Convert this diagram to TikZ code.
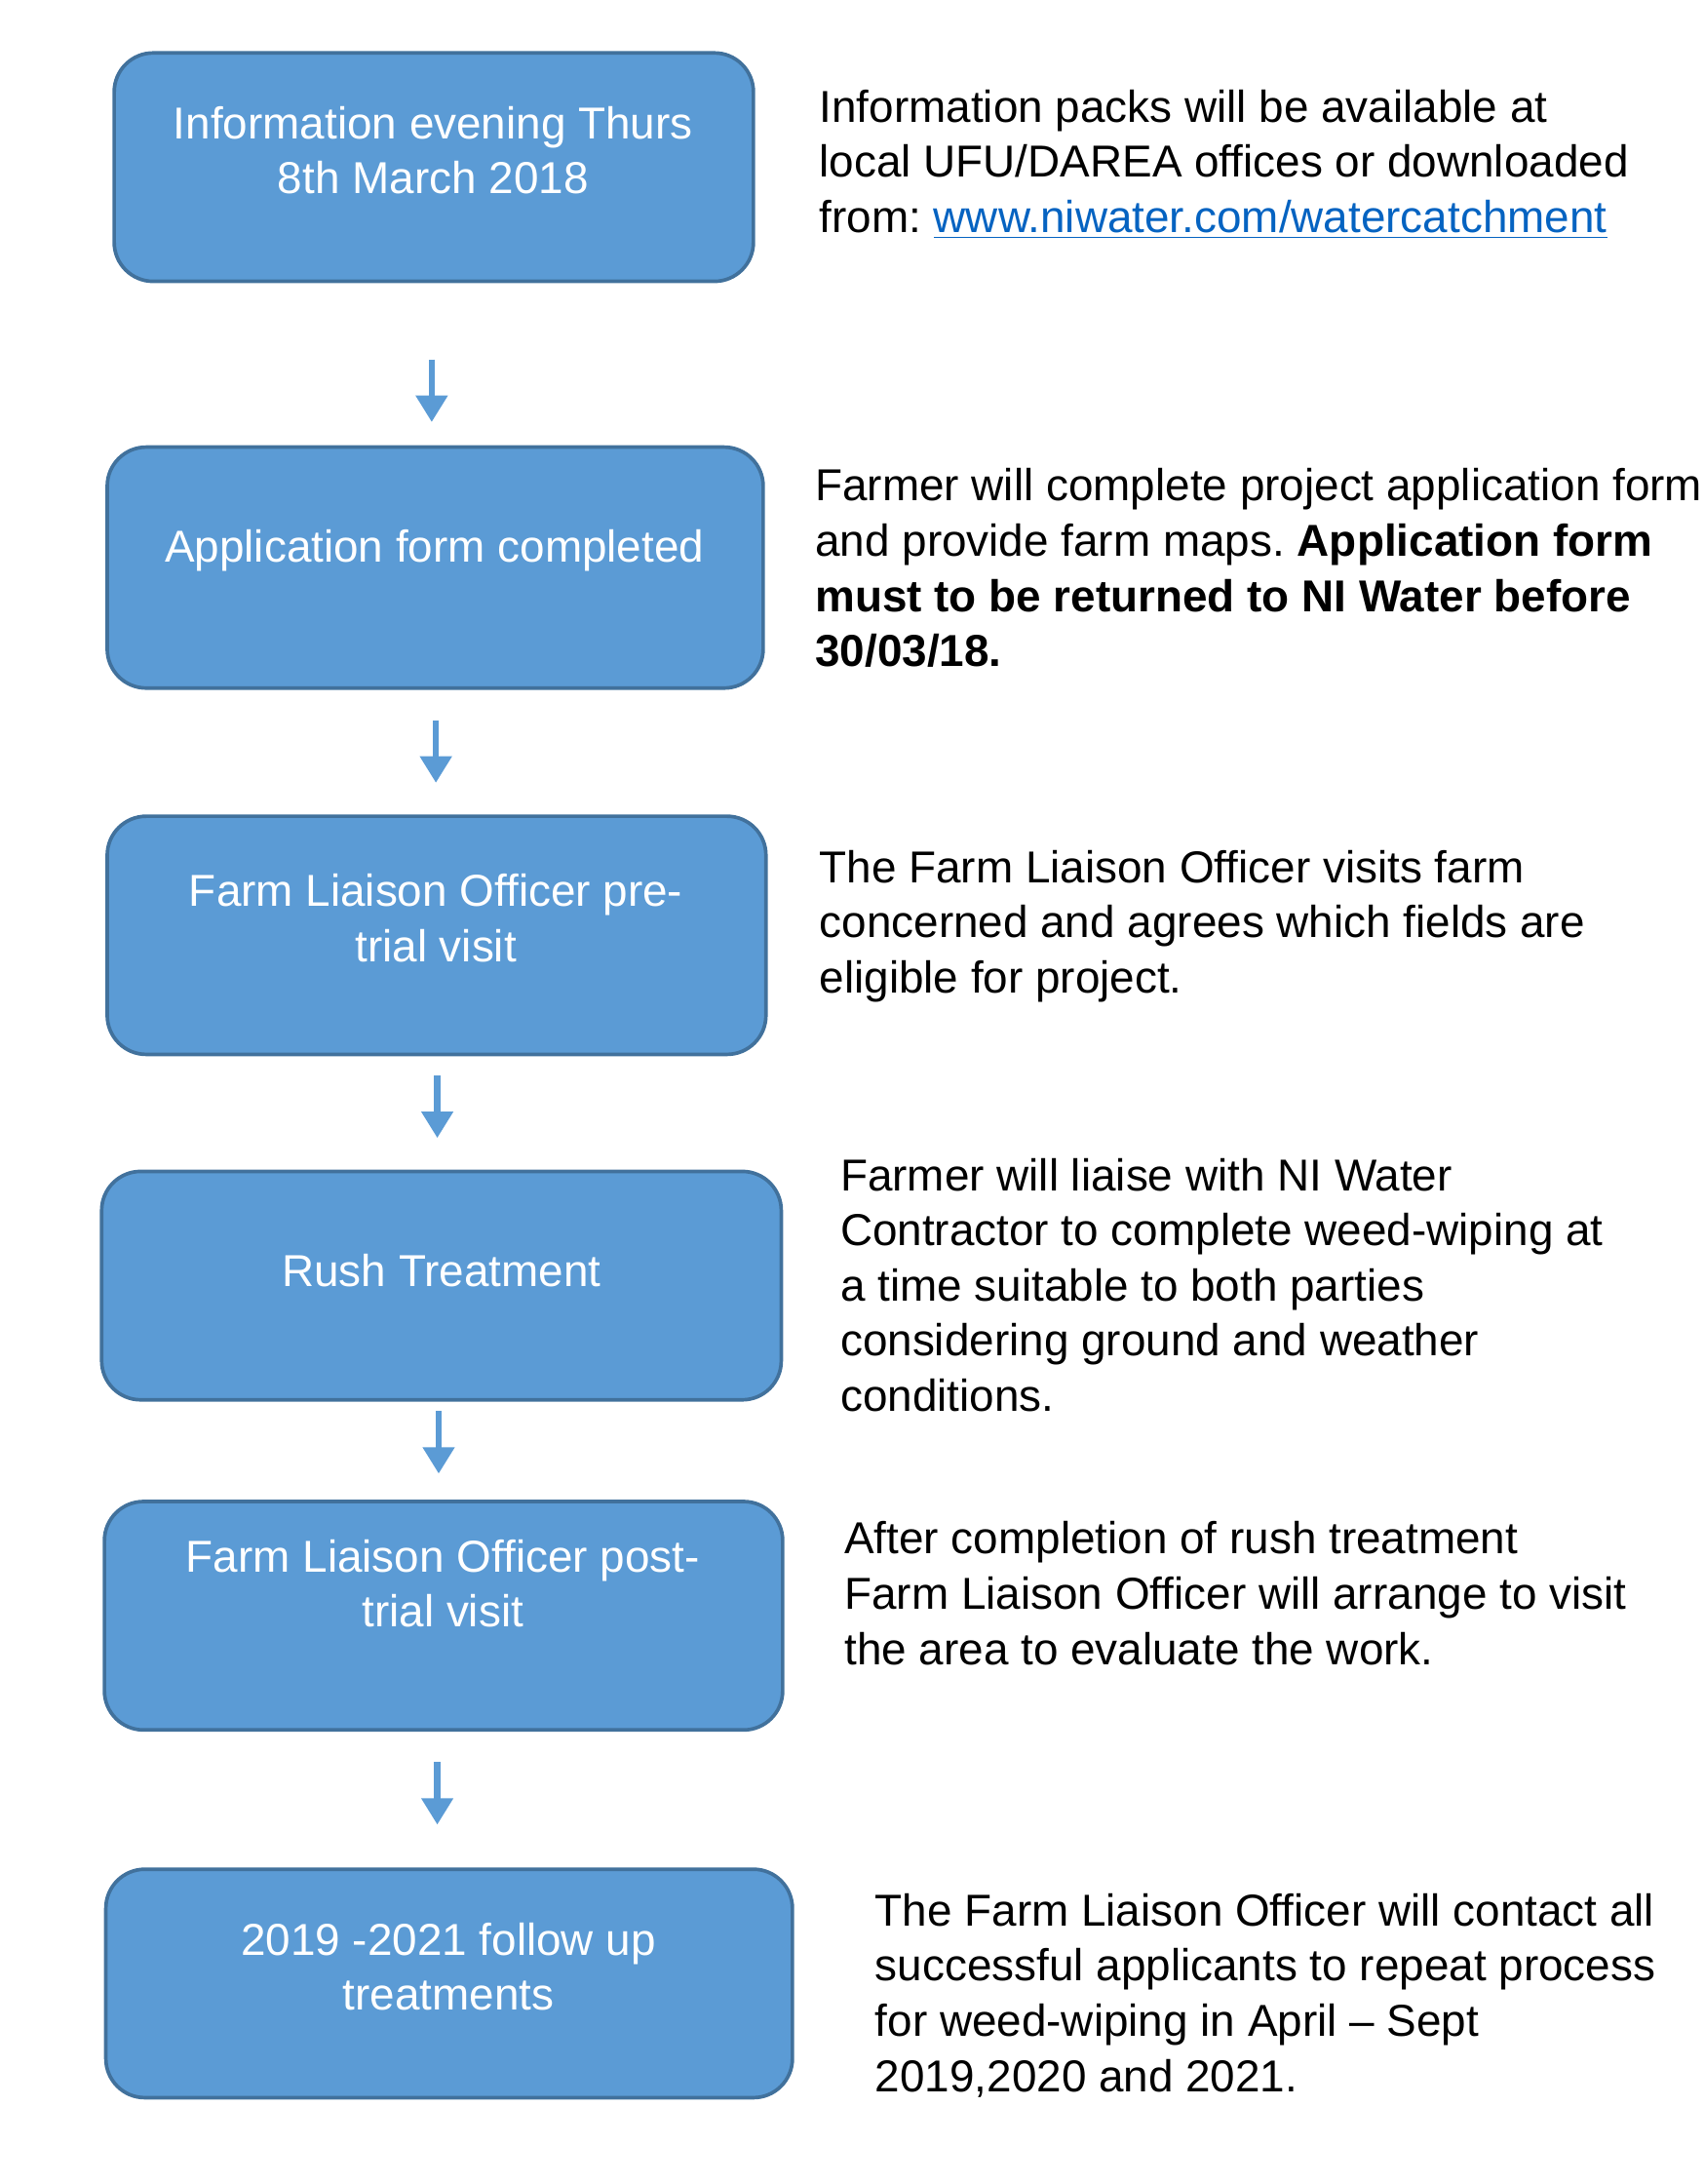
\documentclass[tikz,border=0pt]{standalone}
\usepackage{fontspec}
\setmainfont{Liberation Sans}
\usetikzlibrary{arrows.meta}
\definecolor{boxblue}{HTML}{5B9BD5}
\definecolor{boxedge}{HTML}{41719C}
\definecolor{linkblue}{HTML}{0563C1}
\newcommand{\un}{0.015cm}
\frenchspacing

\begin{document}
\begin{tikzpicture}[x=0.015cm,y=-0.015cm,
	stepbox/.style={draw=boxedge,fill=boxblue,line width=1.1pt,rounded corners=28*\un},
	steptext/.style={text=white,align=center,inner sep=0pt,font=\fontsize{13.7}{16.9}\selectfont},
	note/.style={anchor=north west,inner sep=0pt,align=left,font=\fontsize{13.7}{16.9}\selectfont},
	flow/.style={draw=boxblue,line width=1.9pt,-{Triangle[width=22*\un,length=19*\un]}}]
	\useasboundingbox (0,0) rectangle (1223,1568);

	\node[stepbox,minimum width=459*\un,minimum height=164*\un] (s1) at (311.5,120) {};
	\node[stepbox,minimum width=471*\un,minimum height=173*\un] (s2) at (312.5,407.5) {};
	\node[stepbox,minimum width=473*\un,minimum height=171*\un] (s3) at (313.5,671.5) {};
	\node[stepbox,minimum width=488*\un,minimum height=164*\un] (s4) at (317,923) {};
	\node[stepbox,minimum width=487*\un,minimum height=164*\un] (s5) at (318.5,1160) {};
	\node[stepbox,minimum width=493*\un,minimum height=164*\un] (s6) at (322.5,1424) {};

	\node[steptext] (l1) at (311,108) {Information evening Thurs\\8th March 2018};
	\node[steptext] (l2) at (312,395) {Application form completed};
	\node[steptext] (l3) at (313,659) {Farm Liaison Officer pre-\\trial visit};
	\node[steptext] (l4) at (317,912) {Rush Treatment};
	\node[steptext] (l5) at (318,1137) {Farm Liaison Officer post-\\trial visit};
	\node[steptext] (l6) at (322,1412) {2019 -2021 follow up\\treatments};

	\node[note] (n1) at (588,64) {Information packs will be available at\\local UFU/DAREA offices or downloaded\\from: {\color{linkblue}\underline{www.niwater.com/watercatchment}}};
	\node[note] (n2) at (585,336) {Farmer will complete project application form\\and provide farm maps. \textbf{Application form}\\\textbf{must to be returned to NI Water before}\\\textbf{30/03/18.}};
	\node[note] (n3) at (588,610) {The Farm Liaison Officer visits farm\\concerned and agrees which fields are\\eligible for project.};
	\node[note] (n4) at (603,831) {Farmer will liaise with NI Water\\Contractor to complete weed-wiping at\\a time suitable to both parties\\considering ground and weather\\conditions.};
	\node[note] (n5) at (606,1092) {After completion of rush treatment\\Farm Liaison Officer will arrange to visit\\the area to evaluate the work.};
	\node[note] (n6) at (628,1359) {The Farm Liaison Officer will contact all\\successful applicants to repeat process\\for weed-wiping in April – Sept\\2019,2020 and 2021.};

	\foreach \n/\x/\y in {1/310/258,2/313/517,3/314/772,4/315/1013,5/314/1265}{
		\coordinate (a\n) at (\x,\y);
		\coordinate (e\n) at (\x,\y+45);
		\draw[flow] (a\n) -- (e\n);
	}
\end{tikzpicture}
\end{document}
